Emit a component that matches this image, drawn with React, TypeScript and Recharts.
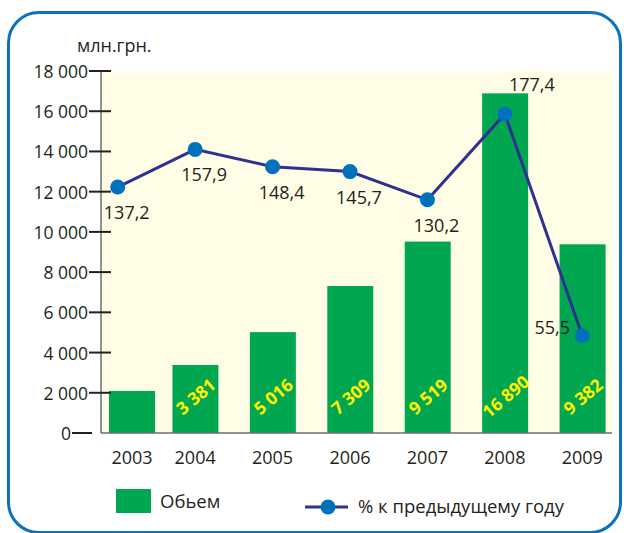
import { ComposedChart, Bar, Line, XAxis, YAxis, CartesianGrid } from 'recharts'

const years = ['2003', '2004', '2005', '2006', '2007', '2008', '2009']
// объем, млн.грн. (2003 на картинке без подписи — оценка по высоте столбца)
const volume = [2090, 3381, 5016, 7309, 9519, 16890, 9382]
const volumeLabeled = [false, true, true, true, true, true, true]
// % к предыдущему году
const growth = [137.2, 157.9, 148.4, 145.7, 130.2, 177.4, 55.5]
const growthLabelSide = ['below', 'below', 'below', 'below', 'below', 'aboveRight', 'left']
const yTicks = [0, 2000, 4000, 6000, 8000, 10000, 12000, 14000, 16000, 18000]

const data = years.map((year, i) => ({ year, volume: volume[i], growth: growth[i] }))

const FONT = '"Open Sans", sans-serif'
const TEXT = '#231f20'
const GREEN = '#00a650'
const LINE = '#2e3192'
const DOT = '#0072bc'
const YELLOW = '#fff200'
const PLOT_LEFT = 101
const BAR_SIZE = 46

const thousands = (v: number) => String(v).replace(/\B(?=(\d{3})+(?!\d))/g, '\u00a0')
const pct = (v: number) => v.toFixed(1).replace('.', ',')
// первый столбец отодвинут от оси
const barX = (x: number) => Math.max(x, PLOT_LEFT + 8)

const labelOffset: Record<string, [number, number]> = {
  below: [9, 25],
  aboveRight: [27, -30],
  left: [-30, -9],
}

function VolumeBar(props: any) {
  const { x, y, width, height, index } = props
  const bx = barX(x)
  const cx = bx + width / 2
  const cy = y + height - 37
  return (
    <g>
      <rect x={bx} y={y} width={width} height={height} fill={GREEN} />
      {volumeLabeled[index] && (
        <g transform={`translate(${cx} ${cy}) rotate(-40)`}>
          <text
            x={0}
            y={0}
            textAnchor="middle"
            dominantBaseline="central"
            fill={YELLOW}
            fontFamily={FONT}
            fontWeight={700}
            fontSize={17.5}
          >
            {thousands(volume[index])}
          </text>
        </g>
      )}
    </g>
  )
}

function GrowthDot(props: any) {
  const { cx, cy, index } = props
  const [dx, dy] = labelOffset[growthLabelSide[index]]
  return (
    <g key={`dot-${index}`}>
      <circle cx={cx} cy={cy} r={7.5} fill={DOT} />
      <text
        x={cx + dx}
        y={cy + dy}
        textAnchor="middle"
        dominantBaseline="central"
        fill={TEXT}
        fontFamily={FONT}
        fontSize={18}
      >
        {pct(growth[index])}
      </text>
    </g>
  )
}

function YTick(props: any) {
  const { x, y, payload } = props
  const zero = payload.value === 0
  const x1 = zero ? x - 29 : x - 12
  const x2 = zero ? x - 9 : x + 10
  return (
    <g>
      <line x1={x1} x2={x2} y1={y} y2={y} stroke={TEXT} strokeWidth={2} />
      <text
        x={x1 - 1}
        y={y}
        textAnchor="end"
        dominantBaseline="central"
        fill={TEXT}
        fontFamily={FONT}
        fontSize={17.5}
      >
        {thousands(payload.value)}
      </text>
    </g>
  )
}

function XTick(props: any) {
  const { x, y, payload } = props
  const cx = barX(x - BAR_SIZE / 2) + BAR_SIZE / 2
  return (
    <text x={cx} y={y + 31} textAnchor="middle" fill={TEXT} fontFamily={FONT} fontSize={18}>
      {payload.value}
    </text>
  )
}

export default function App() {
  return (
    <div
      style={{
        position: 'absolute', left: 0, top: 0, width: 624, height: 533,
        overflow: 'hidden', background: '#fff', fontFamily: FONT, color: TEXT,
      }}
    >
      <div
        style={{
          position: 'absolute', left: 7, top: 11, width: 615, height: 523,
          boxSizing: 'border-box', border: '3px solid #0b72bd', borderRadius: 32,
        }}
      />
      <div style={{ position: 'absolute', left: 77, top: 33, fontSize: 18, lineHeight: '24px' }}>
        млн.грн.
      </div>

      <div style={{ position: 'absolute', left: 0, top: 0 }}>
        <ComposedChart
          width={624}
          height={533}
          data={data}
          margin={{ top: 71, right: 12, bottom: 60, left: 6 }}
        >
          <CartesianGrid horizontal={false} vertical={false} fill="#fffde6" />
          <XAxis
            dataKey="year"
            interval={0}
            height={40}
            padding={{ left: -22, right: -9 }}
            axisLine={{ stroke: '#6d6e71', strokeWidth: 1.5 }}
            tickLine={false}
            tickSize={0}
            tickMargin={0}
            tick={<XTick />}
          />
          <YAxis
            yAxisId="left"
            width={95}
            domain={[0, 18000]}
            ticks={yTicks}
            interval={0}
            axisLine={{ stroke: '#6d6e71', strokeWidth: 1.5 }}
            tickLine={false}
            tickSize={0}
            tickMargin={0}
            tick={<YTick />}
          />
          <YAxis yAxisId="right" orientation="right" domain={[2, 201]} hide />
          <Bar
            yAxisId="left"
            dataKey="volume"
            barSize={BAR_SIZE}
            fill={GREEN}
            shape={<VolumeBar />}
            isAnimationActive={false}
          />
          <Line
            yAxisId="right"
            dataKey="growth"
            type="linear"
            stroke={LINE}
            strokeWidth={3}
            dot={(p: any) => <GrowthDot {...p} />}
            activeDot={false}
            isAnimationActive={false}
          />
        </ComposedChart>
      </div>

      {/* легенда */}
      <div style={{ position: 'absolute', left: 116, top: 489, width: 35, height: 24, background: GREEN }} />
      <div style={{ position: 'absolute', left: 160, top: 488, fontSize: 18.5, lineHeight: '26px' }}>Обьем</div>
      <svg style={{ position: 'absolute', left: 300, top: 495 }} width={55} height={24}>
        <line x1={5} x2={48} y1={12} y2={12} stroke={LINE} strokeWidth={3} />
        <circle cx={28} cy={12} r={7.5} fill={DOT} />
      </svg>
      <div style={{ position: 'absolute', left: 358, top: 493, fontSize: 18.5, lineHeight: '26px' }}>
        % к предыдущему году
      </div>
    </div>
  )
}
